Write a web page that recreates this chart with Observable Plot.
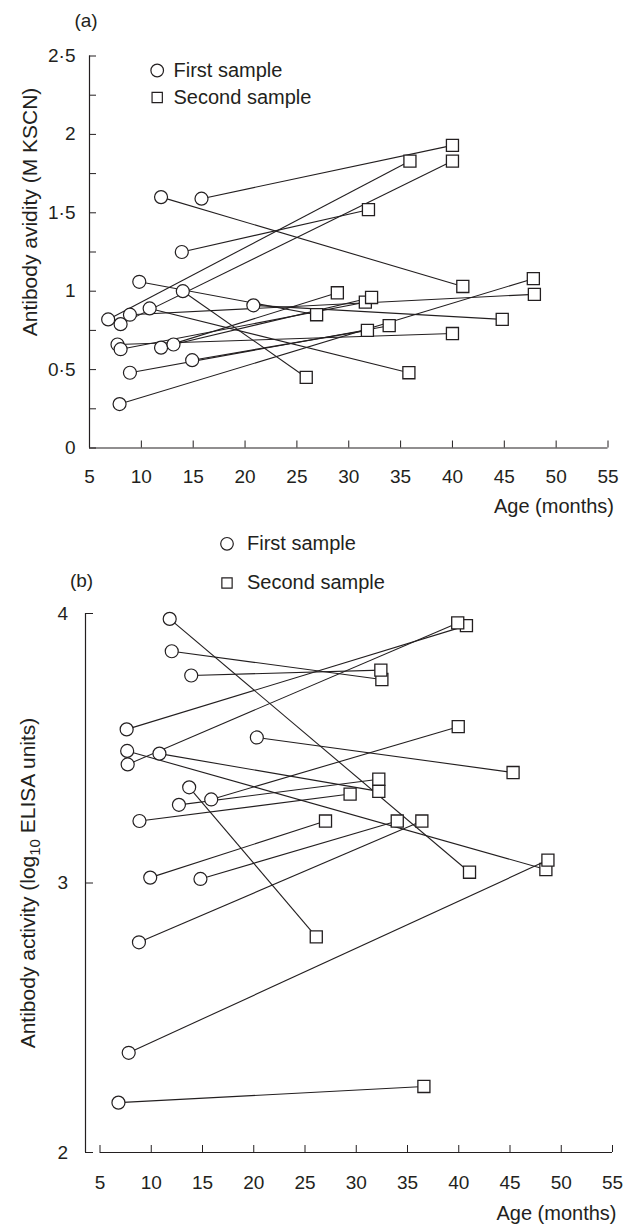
<!DOCTYPE html>
<html>
<head>
<meta charset="utf-8">
<script src="https://cdn.jsdelivr.net/npm/d3@7"></script>
<script src="https://cdn.jsdelivr.net/npm/@observablehq/plot@0.6"></script>
<style>
  html, body { margin: 0; padding: 0; background: #fff; }
  #wrap { position: relative; width: 626px; height: 1224px; overflow: hidden; background: #fff; }
  #wrap svg { position: absolute; left: 0; }
</style>
</head>
<body>
<div id="wrap"></div>
<script>
// ---------- Data ----------
// Panel (a): antibody avidity (M KSCN)
const avidityFirstAge  = [6.8, 8.0, 7.7, 8.0, 7.9, 8.9, 8.9, 9.8, 10.8, 11.9, 11.9, 13.1, 14.0, 13.9, 14.9, 15.8, 20.8];
const avidityFirst     = [0.82, 0.79, 0.66, 0.63, 0.28, 0.48, 0.85, 1.06, 0.89, 0.64, 1.60, 0.66, 1.00, 1.25, 0.56, 1.59, 0.91];
const aviditySecondAge = [35.9, 40.0, 40.0, 31.6, 47.8, 33.9, 47.9, 26.9, 35.8, 28.9, 41.0, 32.2, 25.9, 31.9, 31.8, 40.0, 44.8];
const aviditySecond    = [1.83, 1.83, 0.73, 0.93, 1.08, 0.78, 0.98, 0.85, 0.48, 0.99, 1.03, 0.96, 0.45, 1.52, 0.75, 1.93, 0.82];

// Panel (b): antibody activity (log10 ELISA units)
const activityFirstAge  = [11.8, 12.0, 13.9, 7.6, 20.3, 7.65, 7.7, 10.8, 13.7, 12.7, 15.85, 8.85, 9.9, 14.8, 8.8, 7.8, 6.8];
const activityFirst     = [3.98, 3.86, 3.77, 3.57, 3.54, 3.49, 3.44, 3.48, 3.355, 3.29, 3.31, 3.23, 3.02, 3.015, 2.78, 2.37, 2.185];
const activitySecondAge = [41.05, 32.5, 32.4, 40.75, 45.3, 48.5, 39.9, 32.2, 26.1, 32.2, 39.95, 29.4, 27.0, 34.0, 36.4, 48.7, 36.6];
const activitySecond    = [3.04, 3.755, 3.79, 3.955, 3.41, 3.05, 3.965, 3.34, 2.80, 3.385, 3.58, 3.33, 3.23, 3.23, 3.23, 3.085, 2.245];

// Axis ticks and labels
const ageTicks = [5, 10, 15, 20, 25, 30, 35, 40, 45, 50, 55];
const avidityTicks = [0, 0.5, 1, 1.5, 2, 2.5];
const avidityMinorTicks = [0, 0.25, 0.5, 0.75, 1, 1.25, 1.5, 1.75, 2, 2.25, 2.5];
const activityTicks = [2, 3, 4];
const xLabel = "Age (months)";
const yLabelA = "Antibody avidity (M KSCN)";
const yLabelB = "Antibody activity (log10 ELISA units)";
const legendFirst = "First sample";
const legendSecond = "Second sample";

// ---------- Rendering ----------
const FONT = '"Liberation Sans", Arial, Helvetica, sans-serif';
const INK = "#231f20";
const pairs = (a1, v1, a2, v2) => a1.map((d, i) => ({x1: d, y1: v1[i], x2: a2[i], y2: v2[i]}));
const fmtDot = d => String(d).replace(".", "\u00B7");
const style = {fontFamily: FONT, fontSize: "19px", color: INK, background: "white", overflow: "visible"};

function dataMarks(data) {
  return [
    Plot.link(data, {x1: "x1", y1: "y1", x2: "x2", y2: "y2", stroke: INK, strokeWidth: 1.1}),
    Plot.dot(data, {x: "x1", y: "y1", r: 6.5, fill: "white", stroke: INK, strokeWidth: 1.2}),
    Plot.dot(data, {x: "x2", y: "y2", symbol: "square", r: 6.8, fill: "white", stroke: INK, strokeWidth: 1.3})
  ];
}

function legendMarks(cx, cy1, cy2, tx) {
  return [
    Plot.dot([0], {frameAnchor: "top-left", dx: cx, dy: cy1, r: 6.3, fill: "white", stroke: INK, strokeWidth: 1.2}),
    Plot.dot([0], {frameAnchor: "top-left", dx: cx, dy: cy2, symbol: "square", r: 5.8, fill: "white", stroke: INK, strokeWidth: 1.2}),
    Plot.text([legendFirst], {text: d => d, frameAnchor: "top-left", dx: tx, dy: cy1, textAnchor: "start", lineAnchor: "middle", fontSize: 20, fill: INK}),
    Plot.text([legendSecond], {text: d => d, frameAnchor: "top-left", dx: tx, dy: cy2, textAnchor: "start", lineAnchor: "middle", fontSize: 20, fill: INK})
  ];
}

// Panel (a)
const dataA = pairs(avidityFirstAge, avidityFirst, aviditySecondAge, aviditySecond);
const plotA = Plot.plot({
  width: 626, height: 520,
  marginLeft: 89, marginRight: 18.5, marginTop: 55.5, marginBottom: 72.5,
  style,
  x: {domain: [5, 55]},
  y: {domain: [0, 2.5]},
  marks: [
    Plot.ruleX([5], {stroke: INK, strokeWidth: 1.2}),
    Plot.ruleY([0], {stroke: INK, strokeWidth: 1.2}),
    Plot.axisY({ticks: avidityMinorTicks, tickSize: 7, dx: 7, tickFormat: () => "", label: null, stroke: INK}),
    Plot.axisY({ticks: avidityTicks, tickSize: 0, tickPadding: 14, tickFormat: fmtDot, label: null, fontSize: 19, fill: INK}),
    Plot.axisX({ticks: ageTicks, tickSize: 7, dy: -7, tickFormat: () => "", label: null, stroke: INK}),
    Plot.axisX({ticks: ageTicks, tickSize: 0, tickPadding: 21, label: null, fontSize: 19, fill: INK}),
    ...dataMarks(dataA),
    ...legendMarks(67.7, 14.5, 41.5, 84),
    Plot.text(["(a)"], {text: d => d, frameAnchor: "top-left", dx: -3.5, dy: -35.5, textAnchor: "middle", lineAnchor: "middle", fontSize: 19, fill: INK}),
    Plot.text([yLabelA], {text: d => d, frameAnchor: "left", dx: -59, dy: -40, rotate: -90, textAnchor: "middle", lineAnchor: "middle", fontSize: 21, fill: INK}),
    Plot.text([xLabel], {text: d => d, frameAnchor: "bottom-right", dx: 6, dy: 59, textAnchor: "end", lineAnchor: "middle", fontSize: 20, fill: INK})
  ]
});
plotA.style.top = "0px";

// Panel (b)
const dataB = pairs(activityFirstAge, activityFirst, activitySecondAge, activitySecond);
const plotB = Plot.plot({
  width: 626, height: 704,
  marginLeft: 99.5, marginRight: 14, marginTop: 93, marginBottom: 72,
  style,
  x: {domain: [5, 55]},
  y: {domain: [2, 4]},
  marks: [
    Plot.ruleX([5], {y1: 2, y2: 4, dx: -14.5, stroke: INK, strokeWidth: 1.2}),
    Plot.ruleY([2], {x1: 5, x2: 55, stroke: INK, strokeWidth: 1.2}),
    Plot.axisY({ticks: activityTicks, tickSize: 8, dx: -6.5, tickFormat: () => "", label: null, stroke: INK}),
    Plot.axisY({ticks: activityTicks, tickSize: 0, tickPadding: 32, tickFormat: fmtDot, label: null, fontSize: 19, fill: INK}),
    Plot.axisX({ticks: ageTicks, tickSize: 7, dy: -7, tickFormat: () => "", label: null, stroke: INK}),
    Plot.axisX({ticks: ageTicks, tickSize: 0, tickPadding: 23, label: null, fontSize: 19, fill: INK}),
    ...dataMarks(dataB),
    ...legendMarks(127, -69.7, -30.5, 147),
    Plot.text(["(b)"], {text: d => d, frameAnchor: "top-left", dx: -18.5, dy: -33, textAnchor: "middle", lineAnchor: "middle", fontSize: 19, fill: INK}),
    Plot.text([yLabelB], {text: d => d, frameAnchor: "left", dx: -72, rotate: -90, textAnchor: "middle", lineAnchor: "middle", fontSize: 21, fill: INK}),
    Plot.text([xLabel], {text: d => d, frameAnchor: "bottom-right", dx: 4, dy: 61, textAnchor: "end", lineAnchor: "middle", fontSize: 20, fill: INK})
  ]
});
plotB.style.top = "520px";

const wrap = document.getElementById("wrap");
wrap.appendChild(plotA);
wrap.appendChild(plotB);

// Subscript "10" in the log10 label
plotB.querySelectorAll("text").forEach(t => {
  if (t.textContent === yLabelB) {
    t.textContent = "";
    const ns = "http://www.w3.org/2000/svg";
    const a = document.createElementNS(ns, "tspan"); a.textContent = "Antibody activity (log";
    const b = document.createElementNS(ns, "tspan"); b.textContent = "10"; b.setAttribute("dy", "5"); b.setAttribute("font-size", "15");
    const c = document.createElementNS(ns, "tspan"); c.textContent = " ELISA units)"; c.setAttribute("dy", "-5");
    t.append(a, b, c);
  }
});
</script>
</body>
</html>
